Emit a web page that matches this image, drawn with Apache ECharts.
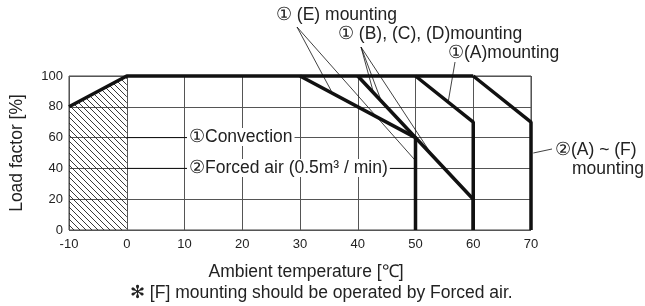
<!DOCTYPE html>
<html>
<head>
<meta charset="utf-8">
<script src="https://cdn.jsdelivr.net/npm/echarts@6/dist/echarts.min.js"></script>
<style>
  html, body { margin: 0; padding: 0; background: #fff; }
  #chart { width: 645px; height: 306px; }
</style>
</head>
<body>
<div id="chart"></div>
<script>
// axis ticks
const xTicks = [-10, 0, 10, 20, 30, 40, 50, 60, 70];
const yTicks = [0, 20, 40, 60, 80, 100];

// derating curves (temperature, load factor)
const baseTemp = [-10, 0, 60];
const baseLoad = [80, 100, 100];
const convETemp = [30, 50, 50];
const convELoad = [100, 60, 0];
const convBCDTemp = [40, 60, 60];
const convBCDLoad = [100, 20, 0];
const convATemp = [50, 60, 60];
const convALoad = [100, 70, 0];
const forcedTemp = [60, 70, 70];
const forcedLoad = [100, 70, 0];
// hatched area (not allowed range)
const hatchTemp = [-10, 0];
const hatchLoad = [80, 100];

const font = '"Liberation Sans", Arial, sans-serif';
const fs = '17.5px ';

function pairs(xs, ys) {
  return xs.map((x, i) => [x, ys[i]]);
}

// hatch pattern
function makeHatch() {
  let s = 6;
  let c = document.createElement('canvas');
  c.width = s; c.height = s;
  let ctx = c.getContext('2d');
  ctx.strokeStyle = '#222';
  ctx.lineWidth = 0.9;
  ctx.beginPath();
  ctx.moveTo(-1, -1); ctx.lineTo(s + 1, s + 1);
  ctx.moveTo(s - 1, -1); ctx.lineTo(s + 1, 1);
  ctx.moveTo(-1, s - 1); ctx.lineTo(1, s + 1);
  ctx.stroke();
  return c;
}

const thick = { color: '#111', width: 3.5 };

function curve(name, xs, ys) {
  return {
    name: name,
    type: 'line',
    data: pairs(xs, ys),
    symbol: 'none',
    clip: false,
    lineStyle: thick,
    z: 5
  };
}

const chart = echarts.init(document.getElementById('chart'));

chart.setOption({
  animation: false,
  backgroundColor: '#fff',
  grid: {
    left: 65, right: 114, top: 76, bottom: 76,
    show: true, borderColor: '#444', borderWidth: 1
  },
  xAxis: {
    type: 'value',
    min: xTicks[0], max: xTicks[xTicks.length - 1], interval: 10,
    axisLine: { show: false },
    axisTick: { show: false },
    axisLabel: { color: '#222', fontSize: 13, fontFamily: font, margin: 8 },
    splitLine: { show: true, lineStyle: { color: '#555', width: 1 } }
  },
  yAxis: {
    type: 'value',
    min: yTicks[0], max: yTicks[yTicks.length - 1], interval: 20,
    name: 'Load factor [%]',
    nameLocation: 'middle',
    nameGap: 43,
    nameTextStyle: { color: '#222', fontSize: 17.5, fontFamily: font },
    axisLine: { show: false },
    axisTick: { show: false },
    axisLabel: { color: '#222', fontSize: 13, fontFamily: font, margin: 6 },
    splitLine: { show: true, lineStyle: { color: '#555', width: 1 } }
  },
  series: [
    {
      name: 'hatch',
      type: 'line',
      data: pairs(hatchTemp, hatchLoad),
      symbol: 'none',
      lineStyle: { width: 0 },
      areaStyle: { color: { image: makeHatch(), repeat: 'repeat' }, opacity: 1 },
      z: 1
    },
    curve('base', baseTemp, baseLoad),
    curve('conv E', convETemp, convELoad),
    curve('conv BCD', convBCDTemp, convBCDLoad),
    curve('conv A', convATemp, convALoad),
    curve('forced', forcedTemp, forcedLoad)
  ]
});

// annotations: leader lines + labels
const toPx = (p) => chart.convertToPixel({ gridIndex: 0 }, p);

function leader(from, toData, w) {
  let b = toPx(toData);
  return {
    type: 'line',
    shape: { x1: from[0], y1: from[1], x2: b[0], y2: b[1] },
    style: { stroke: '#111', lineWidth: w || 0.8 },
    z: 20
  };
}

function label(text, x, y, bg) {
  let style = {
    text: text,
    font: fs + font,
    fill: '#222',
    textVerticalAlign: 'middle'
  };
  if (bg) {
    style.backgroundColor = '#fff';
    style.padding = [0, 2, 0, 2];
  }
  return { type: 'text', x: x, y: y, style: style, z: 30 };
}

const lp60 = toPx([0, 60]);
const lp40 = toPx([0, 40]);

const graphics = [
  // top callouts
  leader([297, 27], [35.6, 89]),
  leader([297, 27], [50, 45]),
  leader([361, 47], [42.7, 89.5]),
  leader([361, 47], [43.9, 85.5]),
  leader([361, 47], [52.8, 49]),
  leader([455, 62], [55.7, 84]),
  leader([552, 149], [70.4, 50]),
  // inside callouts
  leader([lp60[0], lp60[1]], [11, 60], 1),
  leader([lp40[0], lp40[1]], [11, 40], 1),
  leader(toPx([40, 40]), [50, 40], 1),
  label('① (E) mounting', 276, 15),
  label('① (B), (C), (D)mounting', 338, 34),
  label('①(A)mounting', 448, 53),
  label('②(A) ~ (F)', 553, 150, true),
  label('mounting', 570, 169, true),
  label('①Convection', 187, 137, true),
  label('②Forced air (0.5m³ / min)', 187, 168, true),
  {
    type: 'text', x: 306, y: 272, z: 30,
    style: { text: 'Ambient temperature [℃]', font: fs + font, fill: '#222',
      textAlign: 'center', textVerticalAlign: 'middle' }
  },
  {
    type: 'text', x: 130, y: 293, z: 30,
    style: { text: '✻ [F] mounting should be operated by Forced air.', font: fs + font, fill: '#222',
      textVerticalAlign: 'middle' }
  }
];

chart.setOption({ graphic: graphics });
</script>
</body>
</html>
